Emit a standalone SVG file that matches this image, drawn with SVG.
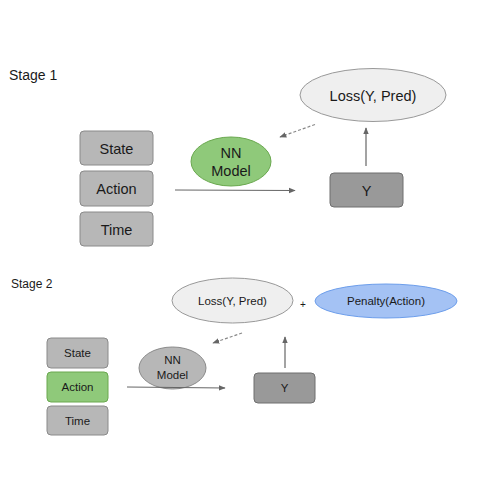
<svg xmlns="http://www.w3.org/2000/svg" width="500" height="500" viewBox="0 0 500 500">
<defs>
<marker id="ah" viewBox="0 0 10 10" refX="9" refY="5" markerWidth="7" markerHeight="7" markerUnits="userSpaceOnUse" orient="auto">
<path d="M0,1 L10,5 L0,9 z" fill="#666"/>
</marker>
<style>
text{font-family:"Liberation Sans",Arial,sans-serif;fill:#1a1a1a;text-anchor:middle;dominant-baseline:central}
.title{text-anchor:start}
.box{fill:#b7b7b7;stroke:#8a8a8a;stroke-width:1}
.act{fill:#8fc97a;stroke:#6aa84f;stroke-width:1}
.y{fill:#999;stroke:#6f6f6f;stroke-width:1}
.green{fill:#8fc97a;stroke:#6aa84f;stroke-width:1}
.nn2{fill:#b7b7b7;stroke:#8a8a8a;stroke-width:1}
.loss{fill:#efefef;stroke:#999;stroke-width:1}
.pen{fill:#a4c2f4;stroke:#6d9eeb;stroke-width:1}
.ln{fill:none;stroke:#666;stroke-width:1.2;marker-end:url(#ah)}
.dash{fill:none;stroke:#888;stroke-width:1.2;stroke-dasharray:3,2;marker-end:url(#ah)}
.s1{font-size:14.5px}
.s2{font-size:11.5px}
</style>
</defs>
<rect width="500" height="500" fill="#fff"/>

<text class="title" x="9" y="75" style="font-size:14px">Stage 1</text>
<text class="title" x="11" y="284" style="font-size:12px">Stage 2</text>

<g id="s1-state"><rect class="box" x="80" y="131" width="73" height="34" rx="4"/><text class="s1" x="116.5" y="148.5">State</text></g>
<g id="s1-action"><rect class="box" x="80" y="171" width="73" height="35" rx="4"/><text class="s1" x="116.5" y="189">Action</text></g>
<g id="s1-time"><rect class="box" x="80" y="212" width="73" height="34" rx="4"/><text class="s1" x="116.5" y="229.5">Time</text></g>
<g id="s1-nn"><ellipse class="green" cx="231" cy="161.5" rx="40" ry="24.5"/><text class="s1" x="231" y="153">NN</text><text class="s1" x="231" y="171">Model</text></g>
<g id="s1-y"><rect class="y" x="330" y="173" width="73" height="34" rx="4"/><text class="s1" x="366.5" y="190.5">Y</text></g>
<g id="s1-loss"><ellipse class="loss" cx="373" cy="95" rx="73" ry="26.5"/><text class="s1" x="373" y="96">Loss(Y, Pred)</text></g>

<g id="s2-state"><rect class="box" x="47" y="338" width="61" height="30" rx="4"/><text class="s2" x="77.5" y="353">State</text></g>
<g id="s2-action"><rect class="act" x="47" y="372" width="61" height="30" rx="4"/><text class="s2" x="77.5" y="387">Action</text></g>
<g id="s2-time"><rect class="box" x="47" y="406" width="61" height="29" rx="4"/><text class="s2" x="77.5" y="420.5">Time</text></g>
<g id="s2-nn"><ellipse class="nn2" cx="172.5" cy="368" rx="33.5" ry="21"/><text class="s2" x="172.5" y="360">NN</text><text class="s2" x="172.5" y="375">Model</text></g>
<g id="s2-y"><rect class="y" x="254" y="373" width="61" height="30" rx="4"/><text class="s2" x="284.5" y="388">Y</text></g>
<g id="s2-loss"><ellipse class="loss" cx="232.5" cy="300.5" rx="60.5" ry="22.5"/><text class="s2" x="232.5" y="301">Loss(Y, Pred)</text></g>
<g id="s2-plus"><text class="s2" x="303" y="304" style="font-size:10px">+</text></g>
<g id="s2-pen"><ellipse class="pen" cx="386" cy="301" rx="71" ry="17"/><text class="s2" x="386" y="301">Penalty(Action)</text></g>

<g id="connectors">
<line class="ln" x1="175" y1="190" x2="295" y2="190.5"/>
<line class="ln" x1="366" y1="166" x2="366" y2="128"/>
<line class="dash" x1="315" y1="124.5" x2="280" y2="137"/>
<line class="ln" x1="127" y1="387" x2="225" y2="388"/>
<line class="ln" x1="285" y1="368" x2="285" y2="337"/>
<line class="dash" x1="242" y1="333" x2="213" y2="343"/>
</g>
</svg>
